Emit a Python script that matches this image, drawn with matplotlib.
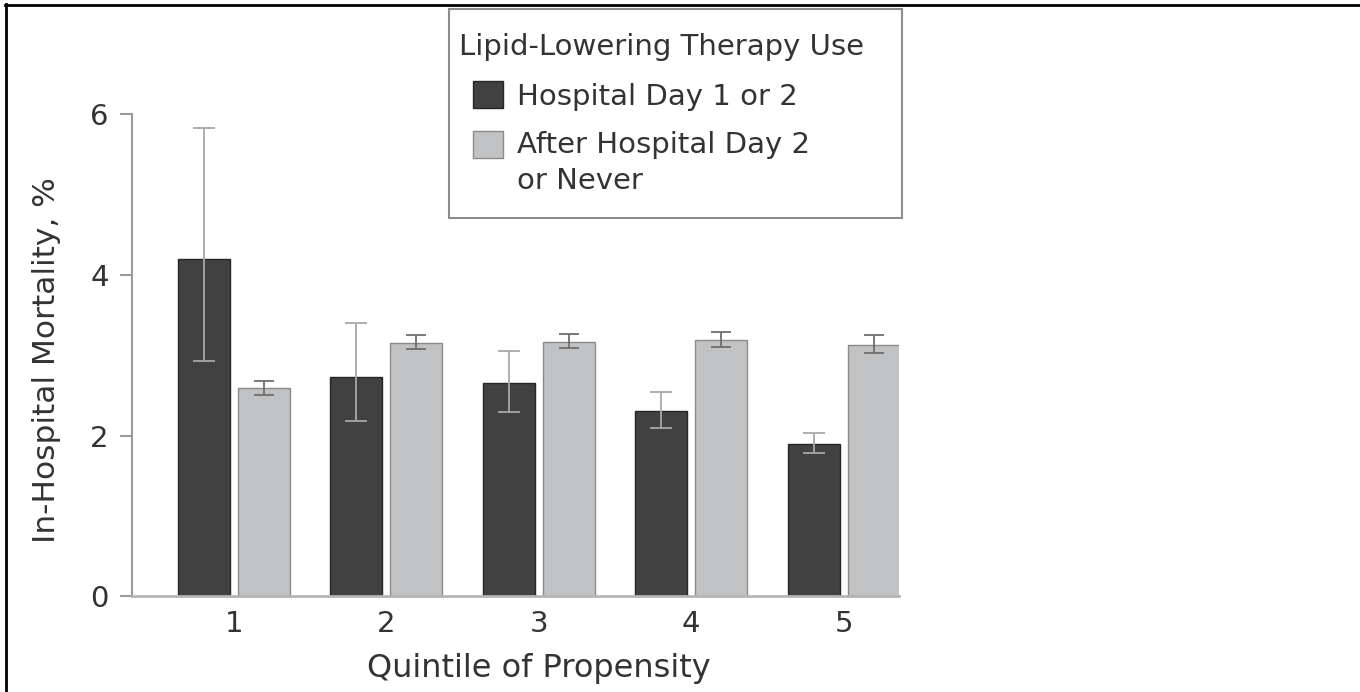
import numpy as np
import matplotlib
matplotlib.use("Agg")
import matplotlib.pyplot as plt
import matplotlib.patches as mpatches
from matplotlib.lines import Line2D
from matplotlib.legend_handler import HandlerPatch

# Quintiles of propensity
quintiles = ["1", "2", "3", "4", "5"]

# Lipid-lowering therapy on hospital day 1 or 2 (mean, 95% CI)
early_mean = [4.20, 2.73, 2.65, 2.31, 1.90]
early_low = [2.93, 2.18, 2.30, 2.09, 1.78]
early_high = [5.83, 3.40, 3.05, 2.54, 2.03]

# After hospital day 2 or never
late_mean = [2.59, 3.15, 3.17, 3.19, 3.13]
late_low = [2.51, 3.08, 3.09, 3.10, 3.03]
late_high = [2.68, 3.25, 3.27, 3.29, 3.25]

legend_title = "Lipid-Lowering Therapy Use"
series_labels = ["Hospital Day 1 or 2", "After Hospital Day 2\nor Never"]

plt.rcParams["font.family"] = ["DejaVu Sans"]
txt = "#333333"
fs = 21

fig = plt.figure(figsize=(13.6, 6.92), dpi=100)
ax = fig.add_axes([0.0968, 0.1382, 0.5640, 0.6966])

x = np.arange(1, len(quintiles) + 1)
width = 0.34
off = 0.197

early_err = [np.subtract(early_mean, early_low), np.subtract(early_high, early_mean)]
late_err = [np.subtract(late_mean, late_low), np.subtract(late_high, late_mean)]

ax.bar(x - off, early_mean, width, color="#414141", edgecolor="#262626",
       linewidth=1, yerr=early_err, zorder=2,
       error_kw=dict(ecolor="#a8a8a8", elinewidth=1.3, capsize=8, capthick=1.3))
ax.bar(x + off, late_mean, width, color="#c1c2c4", edgecolor="#8a8a8a",
       linewidth=1, yerr=late_err, zorder=2,
       error_kw=dict(ecolor="#6e6e6e", elinewidth=1.3, capsize=7.5, capthick=1.3))

ax.set_xlim(0.331, 5.361)
ax.set_ylim(0, 6)
ax.set_xticks(x)
ax.set_xticklabels(quintiles)
ax.set_yticks([0, 2, 4, 6])

for s in ["top", "right"]:
    ax.spines[s].set_visible(False)
ax.spines["left"].set_color("#9a9a9a")
ax.spines["left"].set_linewidth(1.5)
ax.spines["bottom"].set_color("#b5b5b5")
ax.spines["bottom"].set_linewidth(2)

ax.tick_params(axis="y", length=8.6, width=1.5, color="#9a9a9a", pad=8,
               labelsize=fs, labelcolor=txt)
ax.tick_params(axis="x", length=0, pad=10, labelsize=fs, labelcolor=txt)

ax.set_ylabel("In-Hospital Mortality, %", fontsize=22.5, color=txt)
ax.yaxis.set_label_coords(-0.0925, 0.49)
ax.set_xlabel("Quintile of Propensity", fontsize=23, color=txt)
ax.xaxis.set_label_coords(0.531, -0.118)


def raised_patch(legend, orig_handle, xdescent, ydescent, width, height, fontsize):
    # align the swatch with the first line of a two-line label
    return mpatches.Rectangle((-xdescent, -ydescent + 0.67 * fontsize), width, height)


h_early = mpatches.Patch(facecolor="#414141", edgecolor="#262626", linewidth=1)
h_late = mpatches.Patch(facecolor="#c1c2c4", edgecolor="#8a8a8a", linewidth=1)
leg = ax.legend([h_early, h_late], series_labels, title=legend_title,
                loc="upper left", bbox_to_anchor=(449 / 1360, 1 - 9 / 692),
                bbox_transform=fig.transFigure, borderaxespad=0,
                fancybox=False, framealpha=1, edgecolor="#8c8c8c",
                fontsize=fs, title_fontsize=fs, handlelength=1.03,
                handleheight=1.03, handletextpad=0.48, labelspacing=0.7,
                borderpad=0.82, alignment="left",
                handler_map={h_late: HandlerPatch(patch_func=raised_patch)})
leg.get_frame().set_linewidth(1.5)
leg.get_title().set_color(txt)
leg.get_title().set_x(-14)
for t in leg.get_texts():
    t.set_color(txt)
leg.get_texts()[1].set_linespacing(1.34)

# black frame lines at the top and left of the picture
fig.add_artist(Line2D([5 / 1360, 1], [1 - 5 / 692, 1 - 5 / 692],
                      transform=fig.transFigure, color="black", linewidth=2))
fig.add_artist(Line2D([6 / 1360, 6 / 1360], [0, 1 - 4 / 692],
                      transform=fig.transFigure, color="black", linewidth=2))

fig.savefig("out.png", dpi=100)
